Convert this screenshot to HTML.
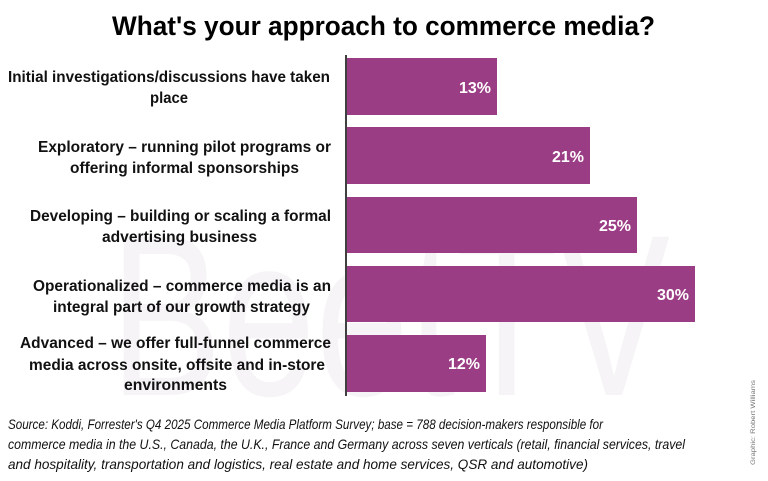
<!DOCTYPE html>
<html><head><meta charset="utf-8"><style>
html,body{margin:0;padding:0;background:#fff;width:768px;height:481px;overflow:hidden}
svg{display:block}
.l{font-family:"Liberation Sans Narrow","Liberation Sans",sans-serif;font-weight:bold;font-size:16px;fill:#111}
.p{font-family:"Liberation Sans Narrow","Liberation Sans",sans-serif;font-weight:bold;font-size:16px;fill:#fff}
.f{font-family:"Liberation Sans Narrow","Liberation Sans",sans-serif;font-style:italic;font-size:14px;fill:#111}
</style></head><body>
<svg width="768" height="481" viewBox="0 0 768 481" xmlns="http://www.w3.org/2000/svg">
<text x="110" y="395" font-family="Liberation Sans" font-size="230" fill="#f6f4f6" textLength="560" lengthAdjust="spacingAndGlyphs">BeetTV</text>
<text x="112" y="35" font-family="Liberation Sans" font-weight="bold" font-size="27" fill="#000" textLength="543" lengthAdjust="spacingAndGlyphs">What's your approach to commerce media?</text>
<g fill="#9b3d84">
<rect x="347" y="58" width="150" height="57"/>
<rect x="347" y="127" width="243" height="57"/>
<rect x="347" y="197" width="290" height="56"/>
<rect x="347" y="266" width="348" height="56"/>
<rect x="347" y="335" width="139" height="57"/>
</g>
<rect x="345" y="55" width="2" height="341" fill="#404040"/>
<text class="p" x="459" y="93" textLength="32" lengthAdjust="spacingAndGlyphs">13%</text>
<text class="p" x="552" y="162" textLength="32" lengthAdjust="spacingAndGlyphs">21%</text>
<text class="p" x="599" y="231" textLength="32" lengthAdjust="spacingAndGlyphs">25%</text>
<text class="p" x="657" y="300" textLength="32" lengthAdjust="spacingAndGlyphs">30%</text>
<text class="p" x="448" y="369" textLength="32" lengthAdjust="spacingAndGlyphs">12%</text>
<g class="l">
<text x="8" y="82" textLength="322" lengthAdjust="spacingAndGlyphs">Initial investigations/discussions have taken</text>
<text x="150" y="103" textLength="38" lengthAdjust="spacingAndGlyphs">place</text>
<text x="38" y="152" textLength="293" lengthAdjust="spacingAndGlyphs">Exploratory – running pilot programs or</text>
<text x="70" y="173" textLength="229" lengthAdjust="spacingAndGlyphs">offering informal sponsorships</text>
<text x="30" y="221" textLength="301" lengthAdjust="spacingAndGlyphs">Developing – building or scaling a formal</text>
<text x="102" y="242" textLength="155" lengthAdjust="spacingAndGlyphs">advertising business</text>
<text x="33" y="291" textLength="298" lengthAdjust="spacingAndGlyphs">Operationalized – commerce media is an</text>
<text x="53" y="312" textLength="257" lengthAdjust="spacingAndGlyphs">integral part of our growth strategy</text>
<text x="20" y="348" textLength="311" lengthAdjust="spacingAndGlyphs">Advanced – we offer full-funnel commerce</text>
<text x="29" y="370" textLength="296" lengthAdjust="spacingAndGlyphs">media across onsite, offsite and in-store</text>
<text x="124" y="390" textLength="103" lengthAdjust="spacingAndGlyphs">environments</text>
</g>
<g class="f">
<text x="8" y="429" textLength="595" lengthAdjust="spacingAndGlyphs">Source: Koddi, Forrester's Q4 2025  Commerce Media Platform Survey; base = 788  decision-makers responsible for</text>
<text x="8" y="449" textLength="677" lengthAdjust="spacingAndGlyphs">commerce media in the U.S., Canada, the U.K., France and Germany across seven verticals (retail, financial services, travel</text>
<text x="8" y="469" textLength="580" lengthAdjust="spacingAndGlyphs">and hospitality, transportation and logistics, real estate and home services, QSR and automotive)</text>
</g>
<text transform="translate(755,465) rotate(-90)" font-family="Liberation Sans" font-size="6" fill="#777" textLength="85" lengthAdjust="spacingAndGlyphs">Graphic: Robert Williams</text>
</svg>
</body></html>
